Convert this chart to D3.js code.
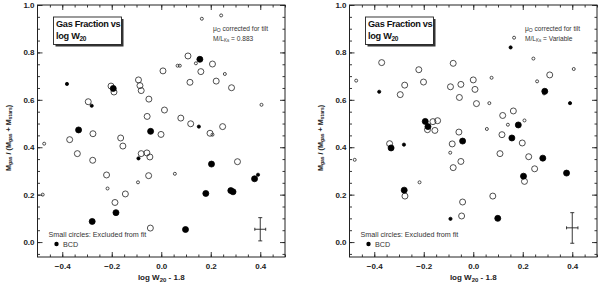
<!DOCTYPE html>
<html><head><meta charset="utf-8">
<script src="https://cdn.jsdelivr.net/npm/d3@7"></script>
<style>
body{margin:0;background:#fff;}
svg{display:block;font-family:"Liberation Sans",Arial,sans-serif;}
</style></head>
<body><svg id="c" width="600" height="284"></svg>
<script>
// ---------- data (x = log W20 - 1.8, y = Mgas/(Mgas+Mstars)) ----------
const xMajorTicks = [-0.4, -0.2, 0.0, 0.2, 0.4];
const yMajorTicks = [0.0, 0.2, 0.4, 0.6, 0.8, 1.0];

// Left panel: M/L = 0.883
const leftOpenLarge = [[0.108,0.785],[0.207,0.751],[0.160,0.719],[0.007,0.722],[0.116,0.674],[0.222,0.679],[0.284,0.651],
  [-0.092,0.684],[-0.086,0.660],[-0.081,0.639],[-0.203,0.658],[-0.191,0.633],[-0.295,0.592],[-0.050,0.603],[0.013,0.557],
  [-0.057,0.530],[0.079,0.523],[0.119,0.499],[0.248,0.487],[0.197,0.459],[-0.276,0.457],[-0.001,0.454],[-0.164,0.439],
  [-0.370,0.432],[-0.155,0.405],[-0.339,0.373],[-0.081,0.373],[-0.058,0.376],[-0.046,0.359],[-0.277,0.345],[0.308,0.339],
  [-0.221,0.283],[-0.051,0.280],[-0.145,0.203],[-0.187,0.167],[-0.044,0.059]];
const leftOpenSmall = [[0.164,0.942],[0.242,0.956],[-0.473,0.415],[-0.479,0.200],[0.066,0.744],[0.075,0.744],[0.140,0.754],
  [0.257,0.709],[0.405,0.579],[0.207,0.453],[0.055,0.288],[-0.094,0.252],[-0.217,0.226]];
const leftBcdLarge = [[0.156,0.771],[-0.194,0.648],[-0.334,0.473],[-0.043,0.467],[0.203,0.329],[0.180,0.205],[0.281,0.217],
  [0.290,0.212],[0.377,0.267],[-0.183,0.124],[-0.279,0.087],[0.098,0.053]];
const leftBcdSmall = [[-0.381,0.667],[-0.281,0.575],[0.152,0.487],[-0.092,0.353],[0.391,0.284]];
const leftErr = [0.4, 0.054, 0.022, 0.005, 0.103]; // x, y, xerr, ylo, yhi

// Right panel: M/L variable
const rightOpenLarge = [[-0.370,0.757],[-0.220,0.727],[-0.081,0.754],[-0.277,0.662],[-0.201,0.675],[-0.295,0.622],[-0.092,0.655],
  [-0.050,0.665],[0.000,0.684],[0.007,0.644],[-0.056,0.610],[0.013,0.584],[0.309,0.705],[0.162,0.553],[0.119,0.534],
  [-0.163,0.508],[-0.144,0.512],[-0.185,0.474],[-0.155,0.471],[-0.058,0.464],[0.116,0.453],[-0.085,0.414],[-0.338,0.415],
  [0.198,0.418],[0.108,0.373],[0.224,0.360],[-0.050,0.340],[-0.081,0.314],[0.248,0.309],[0.207,0.256],[-0.276,0.194],
  [0.079,0.194],[-0.043,0.169],[-0.047,0.110]];
const rightOpenSmall = [[0.165,0.862],[0.243,0.774],[-0.473,0.681],[0.074,0.693],[0.258,0.678],[0.406,0.730],[0.065,0.586],
  [0.286,0.627],[0.140,0.495],[0.207,0.513],[0.055,0.477],[-0.479,0.347],[-0.093,0.377],[-0.217,0.252]];
const rightBcdLarge = [[0.289,0.636],[-0.194,0.509],[-0.183,0.487],[0.182,0.494],[-0.043,0.426],[0.156,0.439],[-0.332,0.397],
  [0.281,0.354],[0.203,0.278],[0.377,0.291],[-0.279,0.219],[0.099,0.100]];
const rightBcdSmall = [[0.151,0.821],[-0.380,0.634],[0.391,0.586],[-0.280,0.411],[-0.092,0.098]];
const rightErr = [0.4, 0.060, 0.023, -0.005, 0.124];

const panels = [
  {x0:37.5, openL:leftOpenLarge, openS:leftOpenSmall, bcdL:leftBcdLarge, bcdS:leftBcdSmall, err:leftErr, ml:"0.883"},
  {x0:349.5, openL:rightOpenLarge, openS:rightOpenSmall, bcdL:rightBcdLarge, bcdS:rightBcdSmall, err:rightErr, ml:"Variable"}
];

const svg = d3.select("#c");
const W = 247.5, yTop = 5, yBot = 257;
const ink = "#222";

panels.forEach(p => {
  const x = d3.scaleLinear().domain([-0.5, 0.5]).range([p.x0, p.x0 + W]);
  const y = d3.scaleLinear().domain([-0.063, 1.0]).range([yBot, yTop]);
  const g = svg.append("g");
  const xMinor = d3.range(-0.45, 0.501, 0.05).map(v => +v.toFixed(2));
  const yMinor = d3.range(-0.05, 1.001, 0.05).map(v => +v.toFixed(2));

  function ax(gen, tr, vals, size, fmt) {
    const a = g.append("g").attr("transform", tr)
      .call(gen.tickValues(vals).tickSize(size).tickSizeOuter(0).tickFormat(fmt).tickPadding(3));
    a.select(".domain").remove();
    a.selectAll("line").attr("stroke", ink).attr("stroke-width", 0.9);
    return a;
  }
  const none = () => "";
  // minor ticks
  ax(d3.axisBottom(x), `translate(0,${yBot})`, xMinor, -2.5, none);
  ax(d3.axisTop(x), `translate(0,${yTop})`, xMinor, -2.5, none);
  ax(d3.axisLeft(y), `translate(${p.x0},0)`, yMinor, -2.5, none);
  ax(d3.axisRight(y), `translate(${p.x0+W},0)`, yMinor, -2.5, none);
  // major ticks
  const bx = ax(d3.axisBottom(x), `translate(0,${yBot})`, xMajorTicks, -5, d3.format(".1f"));
  bx.selectAll("text").attr("y", 6).attr("dy", "0.71em");
  ax(d3.axisTop(x), `translate(0,${yTop})`, xMajorTicks, -5, none);
  const ly = ax(d3.axisLeft(y), `translate(${p.x0},0)`, yMajorTicks, -5, d3.format(".1f"));
  ly.selectAll("text").attr("x", -3);
  ax(d3.axisRight(y), `translate(${p.x0+W},0)`, yMajorTicks, -5, none);
  g.selectAll(".tick text").attr("fill", ink).attr("font-size", 8).attr("font-weight", "bold")
    .attr("font-family", "Liberation Sans, Arial, sans-serif");

  // frame
  g.append("rect").attr("x", p.x0).attr("y", yTop).attr("width", W).attr("height", yBot - yTop)
    .attr("fill", "none").attr("stroke", ink).attr("stroke-width", 1);

  // points
  const pts = (data, r, filled) => g.append("g").selectAll("circle").data(data).join("circle")
    .attr("cx", d => x(d[0])).attr("cy", d => y(d[1])).attr("r", r)
    .attr("fill", filled ? "#000" : "none").attr("stroke", filled ? "#000" : ink).attr("stroke-width", 0.8);
  pts(p.openL, 3.0, false);
  pts(p.openS, 1.5, false);
  pts(p.bcdL, 3.0, true);
  pts(p.bcdS, 1.6, true);

  // error bar
  const [ex, ey, exe, ylo, yhi] = p.err;
  const eb = g.append("g").attr("stroke", ink).attr("stroke-width", 0.9);
  eb.append("line").attr("x1", x(ex)).attr("x2", x(ex)).attr("y1", y(ylo)).attr("y2", y(yhi));
  eb.append("line").attr("x1", x(ex) - 2).attr("x2", x(ex) + 2).attr("y1", y(ylo)).attr("y2", y(ylo));
  eb.append("line").attr("x1", x(ex) - 2).attr("x2", x(ex) + 2).attr("y1", y(yhi)).attr("y2", y(yhi));
  eb.append("line").attr("x1", x(ex - exe)).attr("x2", x(ex + exe)).attr("y1", y(ey)).attr("y2", y(ey));
  eb.append("line").attr("x1", x(ex - exe)).attr("x2", x(ex - exe)).attr("y1", y(ey) - 1.5).attr("y2", y(ey) + 1.5);
  eb.append("line").attr("x1", x(ex + exe)).attr("x2", x(ex + exe)).attr("y1", y(ey) - 1.5).attr("y2", y(ey) + 1.5);

  // title box
  const bx0 = p.x0 + 16, by0 = 17, bw = 68, bh = 27.5;
  g.append("rect").attr("x", bx0 + 2).attr("y", by0 + 2).attr("width", bw).attr("height", bh).attr("fill", "#333");
  g.append("rect").attr("x", bx0).attr("y", by0).attr("width", bw).attr("height", bh)
    .attr("fill", "#fff").attr("stroke", ink).attr("stroke-width", 0.9);
  const tt = g.append("text").attr("x", bx0 + 2.5).attr("y", by0 + 10).attr("font-size", 9.2)
    .attr("font-weight", "bold").attr("fill", "#111").attr("letter-spacing", -0.3);
  tt.append("tspan").text("Gas Fraction vs");
  const t2 = g.append("text").attr("x", bx0 + 2.5).attr("y", by0 + 21.5).attr("font-size", 9.2)
    .attr("font-weight", "bold").attr("fill", "#111").attr("letter-spacing", -0.3);
  t2.append("tspan").text("log W");
  t2.append("tspan").attr("font-size", 6.5).attr("dy", 2).text("20");

  // annotation
  const ax0 = p.x0 + 175.5;
  const a1 = g.append("text").attr("x", ax0).attr("y", 30.5).attr("font-size", 6.6).attr("fill", "#333");
  a1.append("tspan").text("μ");
  a1.append("tspan").attr("font-size", 5).attr("dy", 1.5).text("O");
  a1.append("tspan").attr("dy", -1.5).text(" corrected for tilt");
  const a2 = g.append("text").attr("x", ax0).attr("y", 40.5).attr("font-size", 6.6).attr("fill", "#333");
  a2.append("tspan").text("M/L");
  a2.append("tspan").attr("font-size", 4.5).attr("dy", 1.5).text("Ks");
  a2.append("tspan").attr("dy", -1.5).text(" = " + p.ml);

  // legend
  g.append("text").attr("x", p.x0 + 11).attr("y", 236.5).attr("font-size", 7.2).attr("fill", "#333")
    .text("Small circles:  Excluded from fit");
  g.append("circle").attr("cx", p.x0 + 19).attr("cy", 244).attr("r", 2.2).attr("fill", "#000");
  g.append("text").attr("x", p.x0 + 25.5).attr("y", 246.5).attr("font-size", 7.2).attr("fill", "#333").text("BCD");

  // x-axis title
  const xt = g.append("text").attr("x", p.x0 + W / 2).attr("y", 280).attr("text-anchor", "middle")
    .attr("font-size", 8).attr("font-weight", "bold").attr("fill", ink);
  xt.append("tspan").text("log W");
  xt.append("tspan").attr("font-size", 6).attr("dy", 2).text("20");
  xt.append("tspan").attr("dy", -2).text(" - 1.8");

  // y-axis title
  const yt = g.append("text").attr("transform", `translate(${p.x0 - 27},138) rotate(-90)`)
    .attr("text-anchor", "middle").attr("font-size", 7.2).attr("font-weight", "bold").attr("fill", ink);
  yt.append("tspan").text("M");
  yt.append("tspan").attr("font-size", 5).attr("dy", 1.5).text("gas");
  yt.append("tspan").attr("dy", -1.5).text(" / (M");
  yt.append("tspan").attr("font-size", 5).attr("dy", 1.5).text("gas");
  yt.append("tspan").attr("dy", -1.5).text(" + M");
  yt.append("tspan").attr("font-size", 5).attr("dy", 1.5).text("stars");
  yt.append("tspan").attr("dy", -1.5).text(")");
});
</script></body></html>
